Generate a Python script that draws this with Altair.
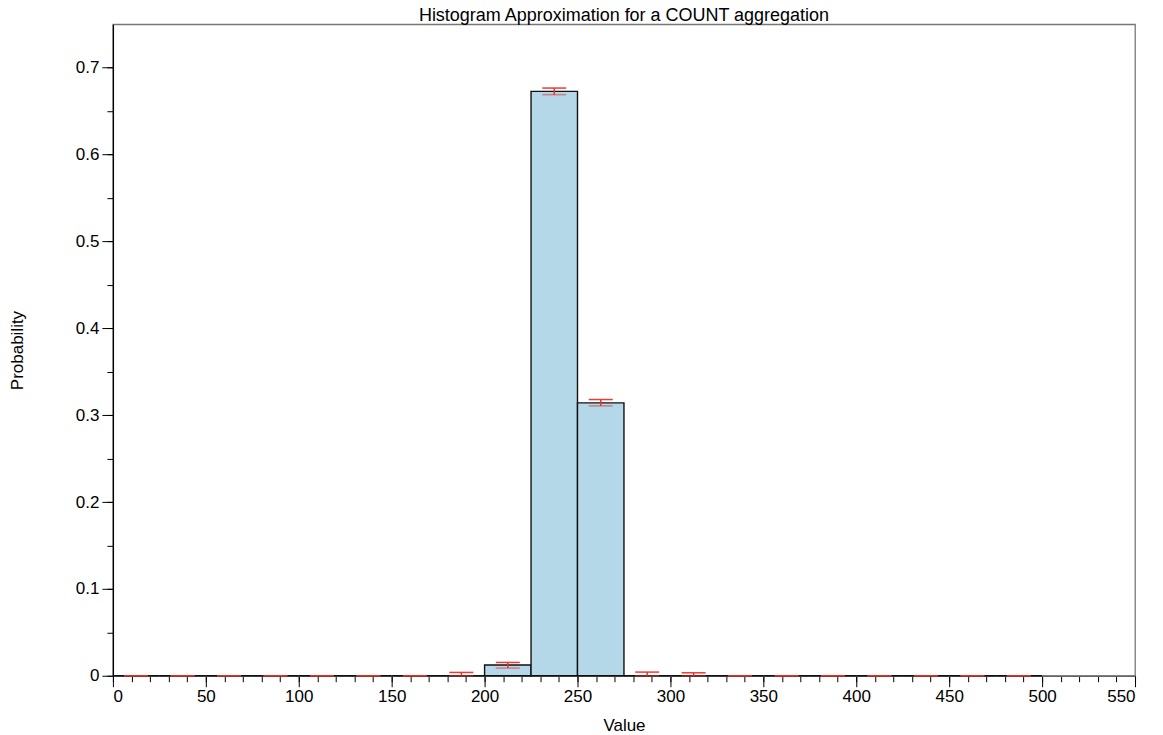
import altair as alt
import pandas as pd

# ---- data ----
bin_start = [0, 25, 50, 75, 100, 125, 150, 175, 200, 225, 250, 275, 300, 325, 350, 375, 400, 425, 450, 475]
bin_end = [25, 50, 75, 100, 125, 150, 175, 200, 225, 250, 275, 300, 325, 350, 375, 400, 425, 450, 475, 500]
bin_center = [12.5, 37.5, 62.5, 87.5, 112.5, 137.5, 162.5, 187.5, 212.5, 237.5, 262.5, 287.5, 312.5,
              337.5, 362.5, 387.5, 412.5, 437.5, 462.5, 487.5]
probability = [0, 0, 0, 0, 0, 0, 0, 0, 0.0123, 0.6728, 0.3141, 0, 0, 0, 0, 0, 0, 0, 0, 0]
err_low = [0, 0, 0, 0, 0, 0, 0, 0, 0.0088, 0.669, 0.3107, 0, 0, 0, 0, 0, 0, 0, 0, 0]
err_high = [0, 0, 0, 0, 0, 0, 0, 0.0038, 0.0153, 0.6766, 0.318, 0.0042, 0.0034, 0, 0, 0, 0, 0, 0, 0]

x_major = [0, 50, 100, 150, 200, 250, 300, 350, 400, 450, 500, 550]
x_minor = [0, 10, 20, 30, 40, 50, 60, 70, 80, 90, 100, 110, 120, 130, 140, 150, 160, 170, 180, 190,
           200, 210, 220, 230, 240, 250, 260, 270, 280, 290, 300, 310, 320, 330, 340, 350, 360, 370,
           380, 390, 400, 410, 420, 430, 440, 450, 460, 470, 480, 490, 500, 510, 520, 530, 540, 550]
y_major = [0, 0.1, 0.2, 0.3, 0.4, 0.5, 0.6, 0.7]
y_minor = [0, 0.05, 0.1, 0.15, 0.2, 0.25, 0.3, 0.35, 0.4, 0.45, 0.5, 0.55, 0.6, 0.65, 0.7]

df = pd.DataFrame({
    "start": bin_start, "end": bin_end, "center": bin_center,
    "prob": probability, "lo": err_low, "hi": err_high,
})

FONT = "Liberation Sans"
RED = "#e8322a"
xscale = alt.Scale(domain=[0, 550], nice=False, zero=False)
yscale = alt.Scale(domain=[0, 0.75], nice=False, zero=False)

base = alt.Chart(df)

minor_axes = base.mark_point(opacity=0).encode(
    x=alt.X("center:Q", scale=xscale,
            axis=alt.Axis(orient="bottom", values=x_minor, labels=False, domain=False,
                          ticks=True, tickSize=6, tickColor="#000", grid=False, title=None)),
    y=alt.Y("hi:Q", scale=yscale,
            axis=alt.Axis(orient="left", values=y_minor, labels=False, domain=False,
                          ticks=True, tickSize=6, tickColor="#000", grid=False, title=None)),
)

bars = base.mark_bar(fill="#b4d8e8", stroke="#111111", strokeWidth=1.4).encode(
    x=alt.X("start:Q", scale=xscale,
            axis=alt.Axis(orient="bottom", values=x_major, format="d", tickSize=11,
                          labelPadding=2, title="Value", titleY=55, titleBaseline="alphabetic",
                          domainColor="#666", grid=False)),
    x2="end:Q",
    y=alt.Y("prob:Q", scale=yscale,
            axis=alt.Axis(orient="left", values=y_major, format=".1~f", tickSize=11,
                          labelPadding=3, title="Probability", titleX=-90, titleAngle=-90,
                          titleBaseline="alphabetic", domainColor="#000", grid=False)),
    y2=alt.datum(0),
)

rules = base.mark_rule(color=RED, strokeWidth=1.5).encode(
    x=alt.X("center:Q", scale=xscale, axis=None),
    y=alt.Y("lo:Q", scale=yscale, axis=None),
    y2="hi:Q",
)
caps_hi = base.mark_tick(orient="horizontal", size=24, thickness=1.5, color=RED, opacity=0.95).encode(
    x=alt.X("center:Q", scale=xscale, axis=None),
    y=alt.Y("hi:Q", scale=yscale, axis=None),
)
caps_lo = base.mark_tick(orient="horizontal", size=24, thickness=1.5, color=RED, opacity=0.55).encode(
    x=alt.X("center:Q", scale=xscale, axis=None),
    y=alt.Y("lo:Q", scale=yscale, axis=None),
)

chart = alt.layer(minor_axes, bars, rules, caps_hi, caps_lo).resolve_axis(
    x="independent", y="independent"
).properties(
    width=1023,
    height=652,
    title=alt.TitleParams("Histogram Approximation for a COUNT aggregation", fontSize=18,
                          font=FONT, fontWeight="normal", color="#000", offset=-1, anchor="middle"),
    autosize=alt.AutoSizeParams(type="none"),
    padding={"left": 105, "top": 16, "right": 20, "bottom": 62},
    background="white",
).configure_view(
    stroke="#777", strokeWidth=1.3
).configure_axis(
    labelFont=FONT, labelFontSize=17, labelColor="#000",
    titleFont=FONT, titleFontSize=17, titleFontWeight="normal", titleColor="#000",
    tickColor="#000", domainWidth=1.3,
)

chart.save("out.html", embed_options={"renderer": "svg", "actions": False})
